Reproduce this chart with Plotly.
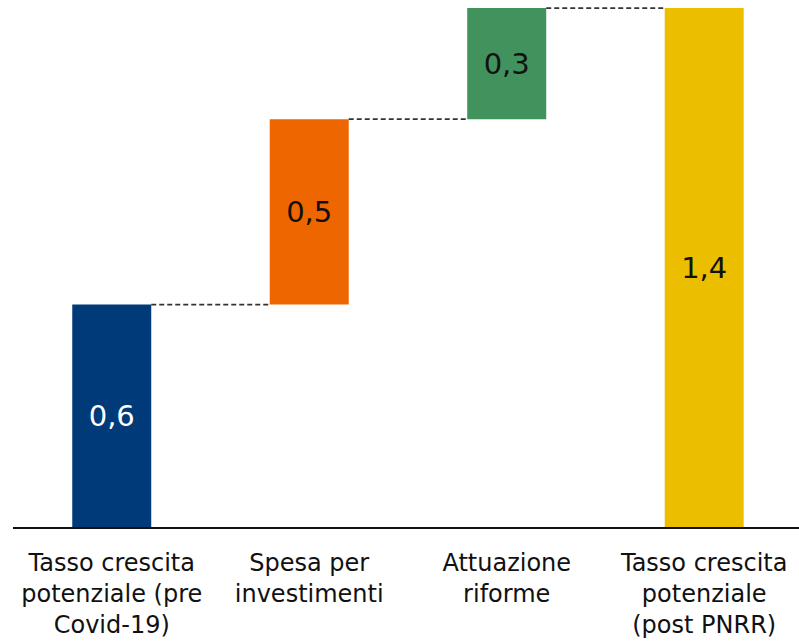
import plotly.graph_objects as go

# Contributi alla crescita potenziale (punti percentuali)
categorie = [
    "Tasso crescita<br>potenziale (pre<br>Covid-19)",
    "Spesa per<br>investimenti",
    "Attuazione<br>riforme",
    "Tasso crescita<br>potenziale<br>(post PNRR)",
]
valori = [0.6, 0.5, 0.3, 1.4]
tipo = ["totale", "delta", "delta", "totale"]
etichette = ["0,6", "0,5", "0,3", "1,4"]
colori = ["#003A78", "#EE6600", "#42925E", "#ECBE00"]
colori_testo = ["white", "#111111", "#111111", "#111111"]

# basi delle barre: i totali partono da zero, i delta dal cumulato precedente
basi = []
livelli = []
cumulato = 0.0
for v, t in zip(valori, tipo):
    if t == "totale":
        basi.append(0.0)
        cumulato = v
    else:
        basi.append(cumulato)
        cumulato += v
    livelli.append(cumulato)

LARGHEZZA = 0.4
FONT = "DejaVu Sans"

fig = go.Figure(
    go.Bar(
        x=list(range(len(categorie))),
        y=valori,
        base=basi,
        width=LARGHEZZA,
        marker=dict(color=colori, line=dict(width=0)),
        text=etichette,
        textposition="inside",
        insidetextanchor="middle",
        textangle=0,
        textfont=dict(family=FONT, size=29, color=colori_testo),
        constraintext="none",
        hoverinfo="skip",
    )
)

# linee tratteggiate di raccordo tra una barra e la successiva
for i in range(len(valori) - 1):
    fig.add_shape(
        type="line",
        xref="x", yref="y",
        x0=i + LARGHEZZA / 2, x1=i + 1 - LARGHEZZA / 2,
        y0=livelli[i], y1=livelli[i],
        line=dict(color="#333333", width=1.75, dash="5px,3px"),
    )

fig.update_layout(
    width=799,
    height=641,
    margin=dict(l=13, r=0, t=0, b=114, autoexpand=False),
    paper_bgcolor="white",
    plot_bgcolor="white",
    showlegend=False,
    font=dict(family=FONT, color="#111111"),
    xaxis=dict(
        tickmode="array",
        tickvals=list(range(len(categorie))),
        ticktext=categorie,
        range=[-0.5, 3.48],
        showgrid=False,
        zeroline=False,
        showline=True,
        linecolor="#111111",
        linewidth=2,
        ticks="",
        automargin=False,
        tickfont=dict(family=FONT, size=24, color="#111111"),
        ticklabelstandoff=13,
    ),
    yaxis=dict(
        range=[0, 1.4216],
        visible=False,
        showgrid=False,
        zeroline=False,
    ),
)

fig.write_html("out.html")
